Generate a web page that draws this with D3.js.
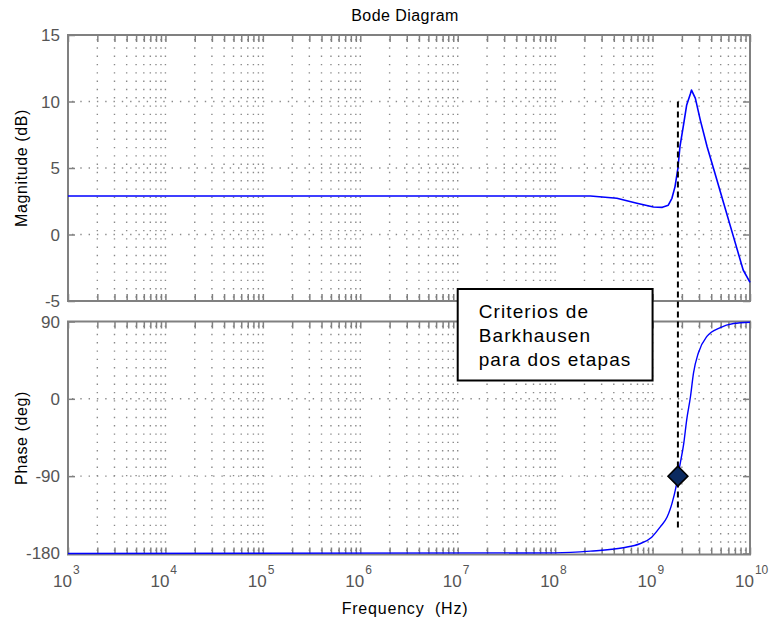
<!DOCTYPE html>
<html>
<head>
<meta charset="utf-8">
<script src="https://cdn.jsdelivr.net/npm/d3@7"></script>
<style>
  body { margin: 0; background: #fff; }
  text { font-family: "Liberation Sans", Arial, Helvetica, sans-serif; }
</style>
</head>
<body>
<svg id="chart" width="769" height="624"></svg>
<script>
// ---- Data -------------------------------------------------------------
const freqDecades = [3, 4, 5, 6, 7, 8, 9, 10];      // 10^k tick labels
const magTicks    = [-5, 0, 5, 10, 15];              // dB
const phaseTicks  = [-180, -90, 0, 90];              // deg

// Magnitude response (Hz, dB)
const magFreq = [1e3, 2.3e8, 4.3e8, 6.9e8, 1.02e9, 1.26e9, 1.45e9, 1.58e9, 1.70e9,
                 1.82e9, 1.91e9, 2.09e9, 2.24e9, 2.45e9, 2.51e9, 2.75e9, 3.09e9,
                 3.63e9, 4.27e9, 5.37e9, 6.76e9, 8.51e9, 1e10];
const magDb   = [2.9, 2.9, 2.72, 2.35, 2.07, 2.04, 2.2, 2.72, 3.6,
                 4.98, 6.6, 8.36, 9.74, 10.6, 10.86, 10.24, 8.6,
                 6.6, 4.85, 2.35, -0.16, -2.67, -3.6];

// Phase response (Hz, deg)
const phaseFreq = [1e3, 1e8, 2.3e8, 5.0e8, 7.4e8, 9.8e8, 1.2e9, 1.41e9, 1.58e9, 1.74e9,
                   1.82e9, 1.91e9, 2.09e9, 2.24e9, 2.45e9, 2.63e9, 2.95e9, 3.63e9,
                   4.9e9, 6.76e9, 1e10];
const phaseDeg  = [-180, -179.3, -177.3, -173.3, -168.7, -161, -149, -137.6, -122, -102.5,
                   -90, -77, -51.8, -24.5, 2.7, 30, 53.4, 72.9,
                   82.7, 87.7, 89.2];

// Barkhausen point and guide line
const markerFreq = 1.82e9, markerPhase = -90;
const guideTopDb = 10, guideBottomDeg = -152;

const noteLines = ["Criterios de", "Barkhausen", "para dos etapas"];
const noteFreqSpan = [1e7, 1e9];

// ---- Layout -----------------------------------------------------------
const svg = d3.select("#chart");
const left = 68, right = 750;
const magBox = { top: 35, bottom: 301 };
const phBox  = { top: 321.5, bottom: 554.5 };
const axisColor = "#808080", labelColor = "#555", gridColor = "#8a8a8a";
const tickLen = 7;

svg.append("rect").attr("width", 769).attr("height", 624).attr("fill", "#fff");

const x = d3.scaleLog().domain([1e3, 1e10]).range([left, right]);
const yMag = d3.scaleLinear().domain([-5, 15]).range([magBox.bottom, magBox.top]);
const yPh  = d3.scaleLinear().domain([-181.2, 90]).range([phBox.bottom, phBox.top]);

// all log ticks (decades and 2..9 multiples)
const xAll = x.ticks();

function panel(y, box, yTicks, showXLabels) {
  const g = svg.append("g");
  // dotted grid
  g.append("g").selectAll("line").data(xAll).join("line")
    .attr("x1", d => x(d)).attr("x2", d => x(d))
    .attr("y1", box.top + 4).attr("y2", box.bottom)
    .attr("stroke", gridColor).attr("stroke-width", 1.4)
    .attr("stroke-dasharray", "1.4,6.9");
  g.append("g").selectAll("line").data(yTicks.slice(1, -1)).join("line")
    .attr("x1", left + 4).attr("x2", right)
    .attr("y1", d => y(d)).attr("y2", d => y(d))
    .attr("stroke", gridColor).attr("stroke-width", 1.4)
    .attr("stroke-dasharray", "1.4,6.9");

  // inward ticks on all four sides
  const axStyle = sel => {
    sel.selectAll(".domain").remove();
    sel.selectAll(".tick line").attr("stroke", axisColor).attr("stroke-width", 1.5);
    sel.selectAll(".tick text").remove();
  };
  g.append("g").attr("transform", `translate(0,${box.bottom})`)
    .call(d3.axisBottom(x).tickValues(xAll).tickSize(-tickLen).tickFormat("")).call(axStyle);
  g.append("g").attr("transform", `translate(0,${box.top})`)
    .call(d3.axisTop(x).tickValues(xAll).tickSize(-tickLen).tickFormat("")).call(axStyle);
  g.append("g").attr("transform", `translate(${left},0)`)
    .call(d3.axisLeft(y).tickValues(yTicks).tickSize(-tickLen).tickFormat("")).call(axStyle);
  g.append("g").attr("transform", `translate(${right},0)`)
    .call(d3.axisRight(y).tickValues(yTicks).tickSize(-tickLen).tickFormat("")).call(axStyle);

  // frame
  g.append("rect").attr("x", left).attr("y", box.top)
    .attr("width", right - left).attr("height", box.bottom - box.top)
    .attr("fill", "none").attr("stroke", axisColor).attr("stroke-width", 2);

  // y tick labels
  g.append("g").selectAll("text").data(yTicks).join("text")
    .attr("x", left - 8).attr("y", d => y(d) + 6)
    .attr("text-anchor", "end").attr("font-size", 17).attr("fill", labelColor)
    .text(d => d);

  if (showXLabels) {
    const lab = g.append("g").selectAll("text").data(freqDecades).join("text")
      .attr("x", d => x(Math.pow(10, d)) - 15).attr("y", box.bottom + 32)
      .attr("font-size", 17).attr("fill", labelColor);
    lab.append("tspan").text("10");
    lab.append("tspan").attr("dx", 1).attr("dy", -13).attr("font-size", 12).text(d => d);
  }
  return g;
}

panel(yMag, magBox, magTicks, false);
panel(yPh, phBox, phaseTicks, true);

// ---- Curves -----------------------------------------------------------
const magLine = d3.line().x((d, i) => x(magFreq[i])).y(d => yMag(d));
svg.append("path").attr("d", magLine(magDb))
  .attr("fill", "none").attr("stroke", "#0000ff").attr("stroke-width", 1.6)
  .attr("stroke-linejoin", "round");

const phLine = d3.line().x((d, i) => x(phaseFreq[i])).y(d => yPh(d)).curve(d3.curveMonotoneX);
svg.append("path").attr("d", phLine(phaseDeg))
  .attr("fill", "none").attr("stroke", "#0000ff").attr("stroke-width", 1.4);

// ---- Guide line and marker -------------------------------------------
svg.append("line")
  .attr("x1", x(markerFreq)).attr("x2", x(markerFreq))
  .attr("y1", yMag(guideTopDb)).attr("y2", yPh(guideBottomDeg))
  .attr("stroke", "#000").attr("stroke-width", 2).attr("stroke-dasharray", "6,4");

const mx = x(markerFreq), my = yPh(markerPhase), r = 10;
svg.append("path")
  .attr("d", `M${mx},${my - r}L${mx + r},${my}L${mx},${my + r}L${mx - r},${my}Z`)
  .attr("fill", "#0b2a60").attr("stroke", "#000").attr("stroke-width", 1.5);

// ---- Annotation box ---------------------------------------------------
const noteX0 = x(noteFreqSpan[0]), noteX1 = x(noteFreqSpan[1]);
const note = svg.append("g");
note.append("rect").attr("x", noteX0).attr("y", 289)
  .attr("width", noteX1 - noteX0).attr("height", 91.5)
  .attr("fill", "#fff").attr("stroke", "#000").attr("stroke-width", 2);
note.selectAll("text").data(noteLines).join("text")
  .attr("x", noteX0 + 21).attr("y", (d, i) => 318 + i * 24)
  .attr("font-size", 19).attr("letter-spacing", 1.1).attr("fill", "#000")
  .text(d => d);

// ---- Titles -----------------------------------------------------------
svg.append("text").attr("x", 405).attr("y", 21).attr("text-anchor", "middle")
  .attr("font-size", 16).attr("letter-spacing", 0.45).attr("fill", "#000").text("Bode Diagram");
svg.append("text").attr("x", 405).attr("y", 614).attr("text-anchor", "middle")
  .attr("font-size", 16).attr("letter-spacing", 0.8).attr("fill", "#000")
  .attr("xml:space", "preserve").style("white-space", "pre").text("Frequency  (Hz)");
svg.append("text").attr("transform", `translate(26.5,${(magBox.top + magBox.bottom) / 2}) rotate(-90)`)
  .attr("text-anchor", "middle").attr("font-size", 16).attr("letter-spacing", 0.6)
  .attr("fill", "#000").text("Magnitude (dB)");
svg.append("text").attr("transform", `translate(26.5,${(phBox.top + phBox.bottom) / 2}) rotate(-90)`)
  .attr("text-anchor", "middle").attr("font-size", 16).attr("letter-spacing", 0.6)
  .attr("fill", "#000").text("Phase (deg)");
</script>
</body>
</html>
